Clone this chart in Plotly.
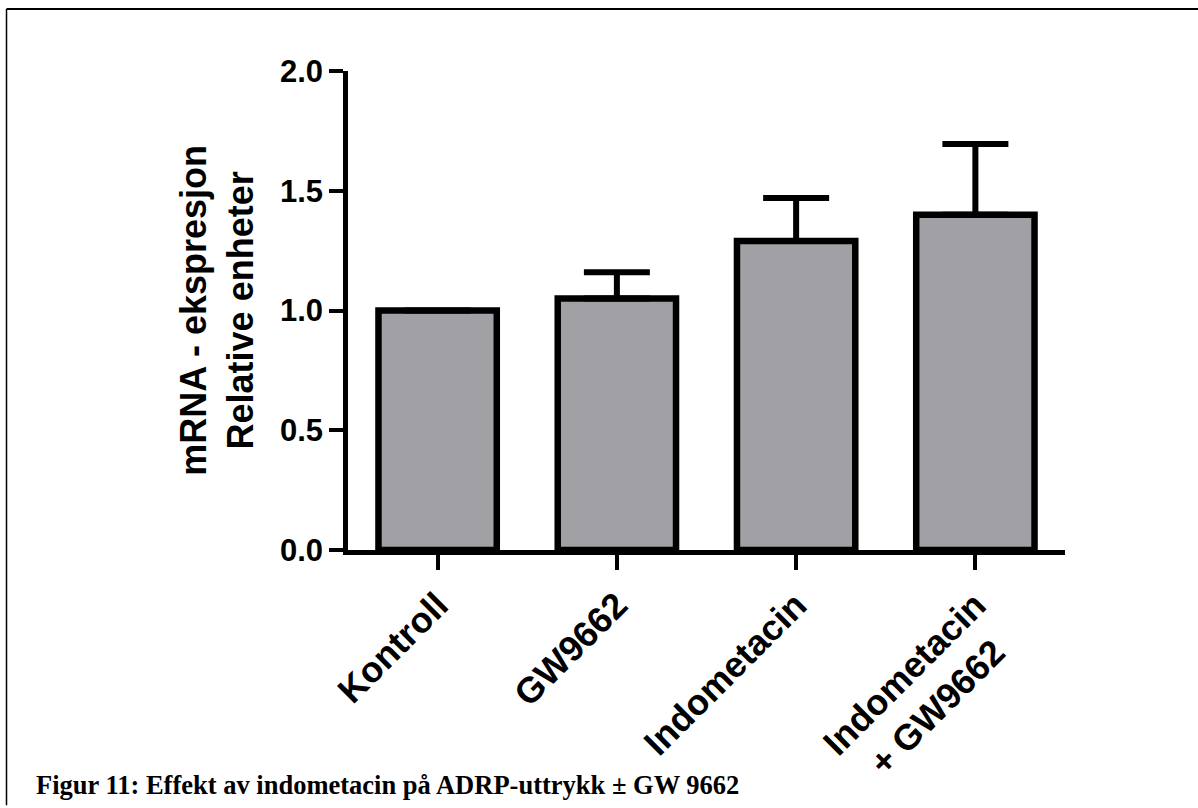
import plotly.graph_objects as go

# Data
categories = ["Kontroll", "GW9662", "Indometacin", "Indometacin<br>+ GW9662\u00a0\u00a0"]
mean_expr = [1.00, 1.05, 1.29, 1.40]
sem_expr = [0.0, 0.11, 0.18, 0.295]
y_ticks = [0.0, 0.5, 1.0, 1.5, 2.0]

W, H = 1198, 808
# plot area extents in pixels
PL, PR, PT, PB = 348, 1065, 70.5, 553


def fx(px):
    return (px - PL) / (PR - PL)


def fy(py):
    return (PB - py) / (PB - PT)


fig = go.Figure()
fig.add_trace(go.Bar(
    x=list(range(len(categories))),
    y=mean_expr,
    width=0.66,
    marker=dict(color="#a1a1a5", line=dict(color="black", width=6.5)),
    error_y=dict(type="data", array=sem_expr, arrayminus=[0] * len(sem_expr),
                 symmetric=False, color="black", thickness=6, width=33),
    showlegend=False,
))

axis_font = dict(family="Arial", size=31, color="black", weight="bold")

fig.update_layout(
    width=W, height=H,
    margin=dict(l=PL, r=W - PR, t=PT, b=H - PB, pad=0),
    paper_bgcolor="white", plot_bgcolor="white",
    xaxis=dict(
        range=[-0.5, 3.5],
        tickmode="array", tickvals=list(range(len(categories))), ticktext=categories,
        tickangle=-45, tickfont=dict(family="Arial", size=36, color="black", weight="bold"),
        showline=True, linecolor="black", linewidth=4.5,
        ticks="outside", ticklen=15, tickwidth=3.5, tickcolor="black",
        showgrid=False, zeroline=False, fixedrange=True,
    ),
    yaxis=dict(
        range=[0, 2.0],
        tickmode="array", tickvals=y_ticks, ticktext=[f"{v:.1f}" for v in y_ticks],
        tickfont=axis_font,
        showline=True, linecolor="black", linewidth=4.5,
        ticks="outside", ticklen=14, tickwidth=3.5, tickcolor="black",
        showgrid=False, zeroline=False, fixedrange=True,
    ),
    annotations=[
        dict(text="mRNA - ekspresjon<br>Relative enheter", textangle=-90,
             xref="paper", yref="paper", x=fx(217), y=fy(312),
             xanchor="center", yanchor="middle", showarrow=False,
             font=dict(family="Arial", size=36, color="black", weight="bold")),
        dict(text="Figur 11: Effekt av indometacin på ADRP-uttrykk ± GW 9662",
             xref="paper", yref="paper", x=fx(35), y=fy(806),
             xanchor="left", yanchor="bottom", showarrow=False, borderpad=0,
             font=dict(family="Liberation Serif", size=26.5, color="black", weight="bold")),
    ],
    shapes=[
        dict(type="line", xref="paper", yref="paper", x0=fx(6.5), x1=fx(1200),
             y0=fy(8), y1=fy(8), line=dict(color="black", width=2)),
        dict(type="line", xref="paper", yref="paper", x0=fx(6.5), x1=fx(6.5),
             y0=fy(8), y1=fy(810), line=dict(color="black", width=1.5)),
    ],
)

fig.write_html("out.html")
